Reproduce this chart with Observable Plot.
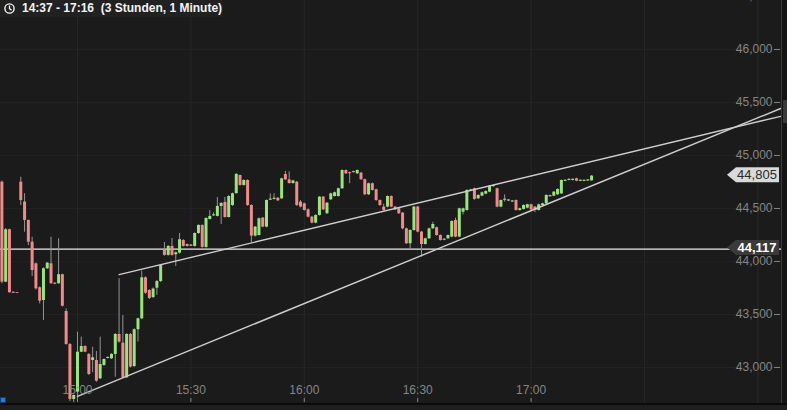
<!DOCTYPE html>
<html>
<head>
<meta charset="utf-8">
<script src="https://cdn.jsdelivr.net/npm/d3@7"></script>
<script src="https://cdn.jsdelivr.net/npm/@observablehq/plot@0.6"></script>
<style>
html, body { margin: 0; padding: 0; background: #1b1b1b; }
#wrap { position: relative; width: 787px; height: 410px; overflow: hidden; background: #1b1b1b; font-family: "Liberation Sans", Arial, sans-serif; }
#chart { position: absolute; left: 0; top: 0; }
#title { position: absolute; left: 0; top: 0; width: 223px; height: 17px; background: #212121; color: #f4f4f4; font-weight: bold; font-size: 12px; line-height: 17px; white-space: pre; }
#title span { position: absolute; left: 22px; top: 0; }
#title svg { position: absolute; left: 4px; top: 3px; }
#rightstrip { position: absolute; left: 781px; top: 0; width: 6px; height: 410px; background: #141414; border-left: 1px solid #3a3a3a; box-sizing: border-box; }
#thumb { position: absolute; left: 783px; top: 100px; width: 4px; height: 23px; background: #3a3a3a; }
#bottomstrip { position: absolute; left: 0; top: 403px; width: 787px; height: 7px; background: #1e1e1e; border-top: 2px solid #0a0a0a; box-sizing: border-box; }
#blue { position: absolute; left: 0; top: 397px; width: 6px; height: 6px; background: #1f80dc; border: 1px solid #0d3f70; box-sizing: border-box; }
</style>
</head>
<body>
<div id="wrap">
  <div id="chart"></div>
  <div id="rightstrip"></div>
  <div id="thumb"></div>
  <div id="bottomstrip"></div>
  <div id="blue"></div>
  <div id="title">
    <svg width="11" height="11" viewBox="0 0 11 11"><circle cx="5.5" cy="5.5" r="4.6" fill="none" stroke="#f4f4f4" stroke-width="1.4"/><path d="M5.5 2.6 V5.6 L7.6 7.2" fill="none" stroke="#f4f4f4" stroke-width="1.3"/></svg>
    <span>14:37 - 17:16  (3 Stunden, 1 Minute)</span>
  </div>
</div>
<script>
// ---- data (1-minute candles, first visible candle at 14:40) ----
const firstCandle = "2024-01-02T14:40:00Z";

const opens = [
  44748, 43805, 44299, 43710, 43705, 44748, 44560, 44387, 44182, 43978,
  43752, 43632, 43931, 43978, 43795, 43790, 43875, 43528, 43217, 42698,
  42767, 43144, 43198, 43123, 43066, 43066, 42893, 43019, 43085, 43082,
  43123, 43311, 43229, 42903, 43311, 43009, 43356, 43459, 43846, 43726,
  43660, 43748, 43811, 44104, 44057, 44142, 44063, 44078, 44198, 44160,
  44145, 44142, 44264, 44340, 44132, 44396, 44430, 44425, 44519, 44557,
  44415, 44528, 44640, 44811, 44717, 44764, 44528, 44239, 44245, 44409,
  44324, 44578, 44586, 44597, 44591, 44820, 44770, 44735, 44748, 44560,
  44544, 44487, 44418, 44362, 44434, 44607, 44450, 44582, 44613, 44613,
  44686, 44858, 44838, 44848, 44827, 44833, 44771, 44629, 44733, 44676,
  44575, 44513, 44513, 44613, 44513, 44497, 44456, 44308, 44167, 44292,
  44513, 44277, 44160, 44214, 44308, 44318, 44245, 44200, 44214, 44230,
  44387, 44230, 44465, 44481, 44665, 44686, 44591, 44616, 44635, 44654,
  44706, 44686, 44513, 44577, 44570, 44561, 44575, 44481, 44491, 44503,
  44535, 44513, 44481, 44528, 44544, 44611, 44616, 44629, 44638, 44756,
  44765, 44765, 44780, 44756, 44756, 44759, 44761
];
const closes = [
  43805, 44299, 43705, 43700, 43698, 44575, 44387, 44182, 43915, 43742,
  43625, 43931, 43984, 43790, 43785, 43875, 43578, 43217, 42698, 42736,
  43144, 43198, 43144, 42934, 43091, 42871, 43028, 43075, 43095, 43123,
  43311, 43239, 42903, 43311, 43003, 43356, 43459, 43846, 43701, 43651,
  43740, 43811, 43962, 44057, 44142, 44057, 44082, 44205, 44142, 44142,
  44155, 44264, 44340, 44132, 44406, 44425, 44440, 44519, 44547, 44415,
  44613, 44639, 44821, 44717, 44764, 44528, 44239, 44324, 44403, 44324,
  44575, 44588, 44596, 44572, 44780, 44770, 44735, 44760, 44528, 44513,
  44481, 44418, 44362, 44434, 44607, 44487, 44550, 44638, 44648, 44686,
  44858, 44827, 44828, 44838, 44858, 44771, 44629, 44733, 44670, 44575,
  44528, 44481, 44613, 44513, 44487, 44450, 44308, 44167, 44292, 44513,
  44277, 44160, 44214, 44308, 44349, 44245, 44198, 44210, 44245, 44377,
  44230, 44497, 44497, 44670, 44675, 44585, 44623, 44648, 44660, 44711,
  44716, 44513, 44575, 44587, 44580, 44571, 44481, 44497, 44528, 44535,
  44487, 44481, 44535, 44544, 44623, 44621, 44654, 44679, 44764, 44766,
  44775, 44775, 44758, 44766, 44766, 44769, 44805
];
const highs = [
  44760, 44310, 44305, 43712, 43707, 44795, 44639, 44390, 44229, 43985,
  43760, 43940, 43990, 44229, 43800, 44214, 43880, 43553, 43225, 42740,
  43333, 43286, 43205, 43130, 43191, 43150, 43286, 43080, 43100, 43130,
  43320, 43837, 43490, 43320, 43320, 43365, 43465, 43910, 43855, 43735,
  43750, 43820, 43970, 44179, 44150, 44217, 44090, 44264, 44205, 44165,
  44160, 44270, 44345, 44345, 44410, 44481, 44460, 44604, 44555, 44604,
  44620, 44645, 44830, 44815, 44770, 44770, 44535, 44330, 44410, 44415,
  44580, 44638, 44640, 44602, 44785, 44850, 44845, 44765, 44755, 44575,
  44550, 44495, 44425, 44440, 44612, 44612, 44556, 44644, 44655, 44692,
  44864, 44863, 44843, 44852, 44864, 44840, 44777, 44740, 44740, 44682,
  44580, 44540, 44618, 44618, 44518, 44503, 44462, 44314, 44298, 44520,
  44520, 44283, 44220, 44314, 44370, 44324, 44250, 44215, 44250, 44383,
  44409, 44503, 44503, 44676, 44680, 44692, 44628, 44654, 44666, 44716,
  44720, 44692, 44580, 44629, 44584, 44575, 44580, 44503, 44534, 44540,
  44540, 44518, 44540, 44550, 44628, 44625, 44660, 44685, 44770, 44770,
  44780, 44780, 44785, 44770, 44770, 44773, 44810
];
const lows = [
  43790, 43800, 43700, 43698, 43696, 44528, 44276, 44150, 43858, 43730,
  43600, 43443, 43925, 43785, 43780, 43785, 43570, 43210, 42680, 42670,
  42670, 43140, 43140, 42925, 42950, 42860, 42885, 43010, 43080, 43075,
  42908, 43230, 42895, 42895, 42995, 43000, 43240, 43450, 43690, 43640,
  43650, 43680, 43800, 44050, 44050, 44050, 43953, 44070, 44135, 44135,
  44140, 44135, 44255, 44125, 44125, 44390, 44425, 44420, 44349, 44410,
  44410, 44520, 44635, 44710, 44710, 44520, 44176, 44230, 44240, 44318,
  44318, 44575, 44580, 44565, 44585, 44765, 44730, 44730, 44520, 44505,
  44475, 44410, 44355, 44355, 44428, 44480, 44445, 44575, 44608, 44607,
  44680, 44820, 44733, 44834, 44820, 44765, 44622, 44622, 44665, 44568,
  44520, 44475, 44506, 44506, 44480, 44444, 44300, 44160, 44110, 44286,
  44270, 44041, 44154, 44208, 44302, 44238, 44192, 44196, 44208, 44224,
  44224, 44224, 44440, 44475, 44660, 44578, 44585, 44610, 44630, 44648,
  44700, 44506, 44506, 44560, 44566, 44556, 44475, 44475, 44485, 44497,
  44480, 44460, 44475, 44522, 44538, 44606, 44610, 44622, 44632, 44752,
  44760, 44760, 44752, 44752, 44752, 44755, 44756
];

// reference level and last price
const refLevel = 44117;
const lastPrice = 44805;

// trend lines (time, price)
const upperTrendTimes = ["2024-01-02T15:11:00Z", "2024-01-02T18:06:00Z"];
const upperTrendPrices = [43876, 45369];
const lowerTrendTimes = ["2024-01-02T15:00:00Z", "2024-01-02T18:06:00Z"];
const lowerTrendPrices = [42727, 45443];

// axis ticks
const xTickLabels = ["15:00", "15:30", "16:00", "16:30", "17:00"];
const xGridLabels = ["15:00", "15:30", "16:00", "16:30", "17:00", "17:30", "18:00"];
const yTickValues = [43000, 43500, 44000, 44500, 45000, 45500, 46000, 46500];

// ---- build ----
const t0 = new Date(firstCandle).getTime();
const candles = opens.map((o, i) => ({
  time: new Date(t0 + i * 60000),
  open: o, close: closes[i], high: highs[i], low: lows[i]
}));
const up = candles.filter(d => d.close >= d.open);
const down = candles.filter(d => d.close < d.open);
const upper = upperTrendTimes.map((t, i) => ({time: new Date(t), price: upperTrendPrices[i]}));
const lower = lowerTrendTimes.map((t, i) => ({time: new Date(t), price: lowerTrendPrices[i]}));
const toDate = s => new Date(`2024-01-02T${s}:00Z`);
const xTicks = xTickLabels.map(toDate);
const xGrid = xGridLabels.map(toDate);

const fmtNum = d3.format(",");
const axisColor = "#858585";

const chart = Plot.plot({
  width: 787,
  height: 410,
  marginLeft: 0,
  marginRight: 6,
  marginTop: 0,
  marginBottom: 7,
  style: {background: "transparent", fontFamily: "'Liberation Sans', Arial, sans-serif", fontSize: "12px", overflow: "hidden"},
  x: {type: "utc", domain: [new Date("2024-01-02T14:39:38Z"), new Date("2024-01-02T18:06:14Z")]},
  y: {domain: [42660, 46462]},
  marks: [
    Plot.gridX(xGrid, {stroke: "#282828", strokeOpacity: 1}),
    Plot.gridY(yTickValues, {stroke: "#232323", strokeOpacity: 1}),
    Plot.ruleY([refLevel], {stroke: "#ececec", strokeWidth: 1.3}),
    Plot.ruleX(candles, {x: "time", y1: "low", y2: "high", stroke: "#959595", strokeWidth: 1, clip: true}),
    Plot.ruleX(up, {x: "time", y1: "open", y2: "close", stroke: "#9ae47e", strokeWidth: 3, clip: true}),
    Plot.ruleX(down, {x: "time", y1: "open", y2: "close", stroke: "#f08b8b", strokeWidth: 3, clip: true}),
    Plot.line(upper, {x: "time", y: "price", stroke: "#cdcdcd", strokeWidth: 1.4, clip: true}),
    Plot.line(lower, {x: "time", y: "price", stroke: "#cdcdcd", strokeWidth: 1.4, clip: true}),
    Plot.axisX(xTicks, {anchor: "bottom", tickSize: 4, dy: -5, tickPadding: -12, lineAnchor: "middle", tickFormat: d3.utcFormat("%H:%M"), color: axisColor}),
    Plot.axisY(yTickValues, {anchor: "right", tickSize: 6, dx: -8, tickPadding: -7, textAnchor: "end", tickFormat: fmtNum, color: axisColor})
  ]
});
document.getElementById("chart").appendChild(chart);

// price tags on the right, positioned with the plot's y scale
const ys = chart.scale("y");
const svg = d3.select(chart);
function tag(value, fill, textFill, bold) {
  const yc = ys.apply(value) - 1;
  const g = svg.append("g");
  g.append("polygon")
    .attr("points", `727,${yc} 736,${yc - 7.5} 779,${yc - 7.5} 779,${yc + 7.5} 736,${yc + 7.5}`)
    .attr("fill", fill);
  g.append("text")
    .attr("x", 757).attr("y", yc).attr("dy", "0.36em")
    .attr("text-anchor", "middle")
    .attr("fill", textFill)
    .attr("font-size", 13)
    .attr("font-weight", bold ? "bold" : "normal")
    .attr("font-family", "'Liberation Sans', Arial, sans-serif")
    .text(fmtNum(value));
}
tag(lastPrice, "#d9d9d9", "#2a2a2a", false);
tag(refLevel, "#3a3a3a", "#ffffff", true);
</script>
</body>
</html>
